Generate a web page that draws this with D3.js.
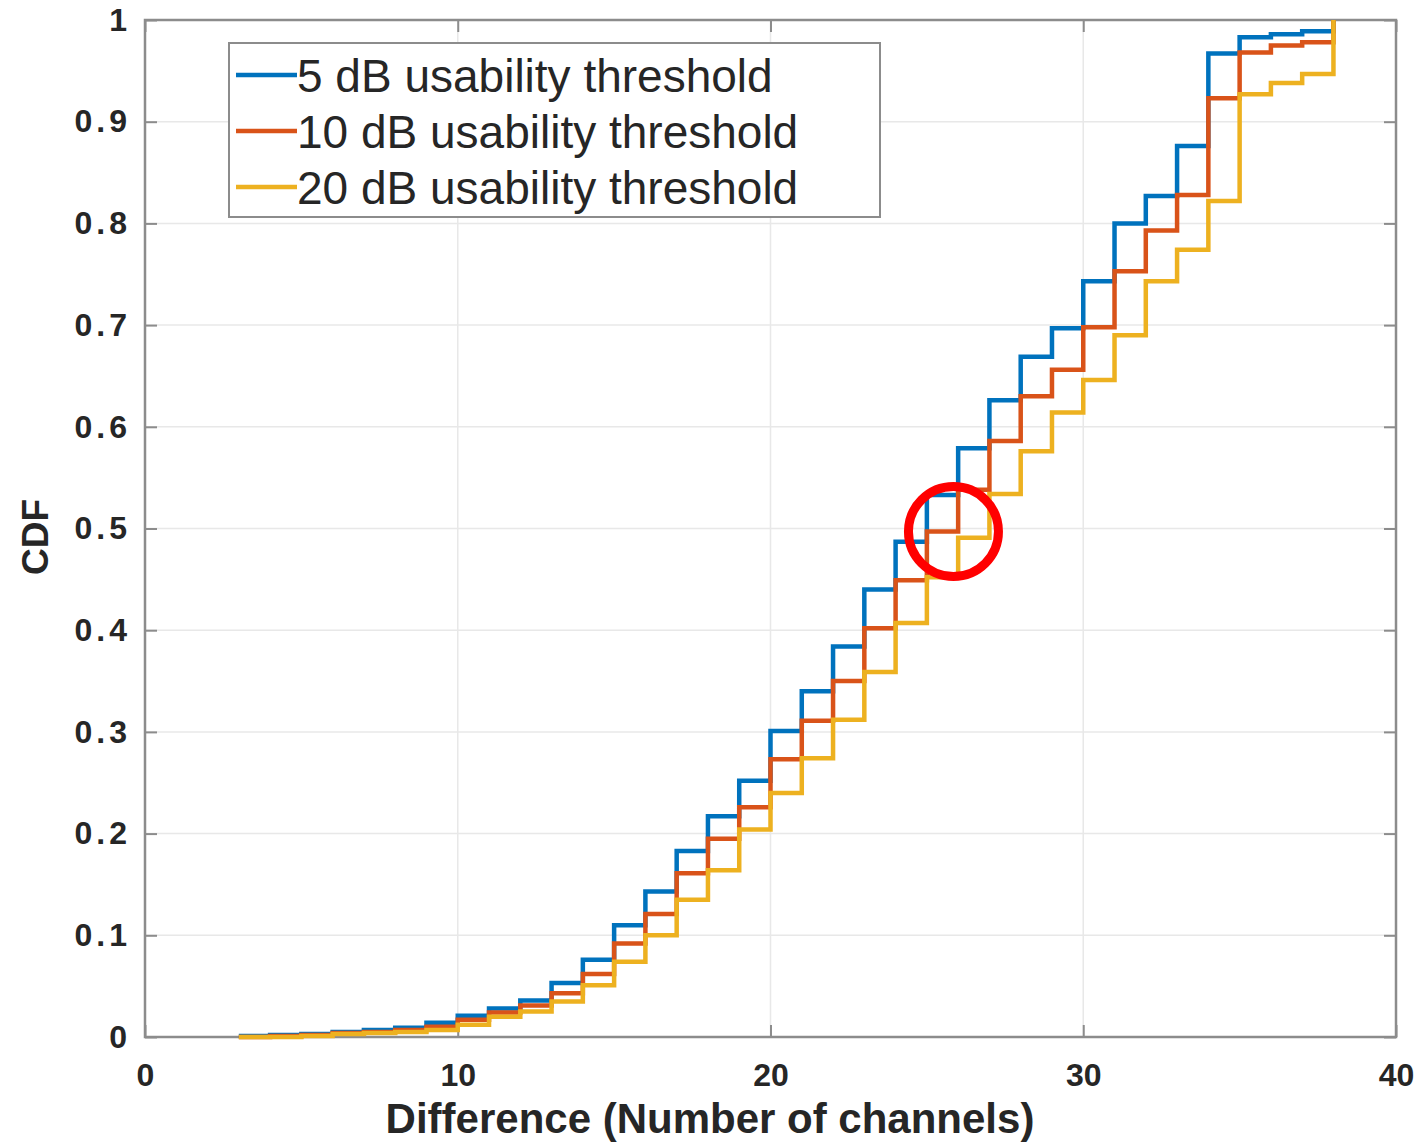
<!DOCTYPE html>
<html>
<head>
<meta charset="utf-8">
<script src="https://cdn.jsdelivr.net/npm/d3@7"></script>
<style>
  body { margin: 0; background: #fff; }
  text { font-family: "Liberation Sans", Arial, Helvetica, sans-serif; }
</style>
</head>
<body>
<script>
// valores de x (diferencia en canales), un escalon por canal
var channels = [3, 4, 5, 6, 7, 8, 9, 10, 11, 12, 13, 14, 15, 16, 17, 18, 19, 20,
  21, 22, 23, 24, 25, 26, 27, 28, 29, 30, 31, 32, 33, 34, 35, 36, 37, 38];

// CDF para cada umbral (valor desde x hasta x+1)
var cdf5dB = [0.001, 0.002, 0.003, 0.005, 0.007, 0.009, 0.014, 0.021, 0.028, 0.036,
  0.053, 0.076, 0.110, 0.143, 0.183, 0.217, 0.252, 0.301, 0.340, 0.384, 0.440,
  0.487, 0.533, 0.579, 0.626, 0.669, 0.697, 0.743, 0.800, 0.827, 0.876, 0.967,
  0.983, 0.986, 0.989, 1.0];
var cdf10dB = [0.000, 0.001, 0.002, 0.004, 0.005, 0.007, 0.010, 0.017, 0.024, 0.031,
  0.043, 0.062, 0.092, 0.121, 0.161, 0.195, 0.226, 0.273, 0.311, 0.350, 0.402,
  0.449, 0.497, 0.538, 0.586, 0.630, 0.656, 0.698, 0.753, 0.793, 0.828, 0.923,
  0.968, 0.975, 0.978, 1.0];
var cdf20dB = [0.000, 0.000, 0.001, 0.003, 0.004, 0.005, 0.007, 0.012, 0.020, 0.025,
  0.035, 0.051, 0.074, 0.100, 0.135, 0.164, 0.204, 0.240, 0.274, 0.312, 0.359,
  0.407, 0.452, 0.491, 0.534, 0.576, 0.614, 0.646, 0.690, 0.743, 0.774, 0.822,
  0.927, 0.938, 0.947, 1.0];

var seriesNames = ["5 dB usability threshold", "10 dB usability threshold", "20 dB usability threshold"];
var seriesColors = ["#0072BD", "#D95319", "#EDB120"];

var xTicks = [0, 10, 20, 30, 40];
var yTicks = [0, 0.1, 0.2, 0.3, 0.4, 0.5, 0.6, 0.7, 0.8, 0.9, 1];

// punto marcado con el circulo rojo
var highlight = [25.85, 0.497];

var width = 1419, height = 1145;
var margin = { left: 145, right: 23, top: 20, bottom: 108 };

var svg = d3.select("body").append("svg")
  .attr("width", width)
  .attr("height", height);

var x = d3.scaleLinear().domain([0, 40]).range([margin.left, width - margin.right]);
var y = d3.scaleLinear().domain([0, 1]).range([height - margin.bottom, margin.top]);

// rejilla
svg.append("g")
  .selectAll("line.gx")
  .data(xTicks)
  .enter().append("line")
  .attr("x1", d => x(d)).attr("x2", d => x(d))
  .attr("y1", y(0)).attr("y2", y(1))
  .attr("stroke", "#e8e8e8").attr("stroke-width", 1.5);
svg.append("g")
  .selectAll("line.gy")
  .data(yTicks)
  .enter().append("line")
  .attr("x1", x(0)).attr("x2", x(40))
  .attr("y1", d => y(d)).attr("y2", d => y(d))
  .attr("stroke", "#e8e8e8").attr("stroke-width", 1.5);

// ejes tipo MATLAB con ticks hacia dentro
var tickLen = 12;
var axisColor = "#8c8c8c";
var tickFont = "'DejaVu Sans', sans-serif";
var fmt = d => d === 0 || d === 1 ? String(d) : d3.format(".1f")(d);

svg.append("g")
  .attr("transform", "translate(0," + y(0) + ")")
  .call(d3.axisBottom(x).tickValues(xTicks).tickSizeInner(-tickLen).tickSizeOuter(0).tickPadding(26))
  .call(g => g.select(".domain").remove())
  .call(g => g.selectAll("line").attr("stroke", axisColor).attr("stroke-width", 2))
  .call(g => g.selectAll("text").attr("font-family", tickFont).attr("font-size", 32)
    .attr("font-weight", "bold").attr("fill", "#262626"));

svg.append("g")
  .attr("transform", "translate(0," + y(1) + ")")
  .call(d3.axisTop(x).tickValues(xTicks).tickSizeInner(-tickLen).tickSizeOuter(0).tickFormat(""))
  .call(g => g.select(".domain").remove())
  .call(g => g.selectAll("line").attr("stroke", axisColor).attr("stroke-width", 2));

svg.append("g")
  .attr("transform", "translate(" + x(0) + ",0)")
  .call(d3.axisLeft(y).tickValues(yTicks).tickFormat(fmt).tickSizeInner(-tickLen).tickSizeOuter(0).tickPadding(14))
  .call(g => g.select(".domain").remove())
  .call(g => g.selectAll("line").attr("stroke", axisColor).attr("stroke-width", 2))
  .call(g => g.selectAll("text").attr("font-family", tickFont).attr("font-size", 32)
    .attr("font-weight", "bold").attr("letter-spacing", 4).attr("fill", "#262626"));

svg.append("g")
  .attr("transform", "translate(" + x(40) + ",0)")
  .call(d3.axisRight(y).tickValues(yTicks).tickSizeInner(-tickLen).tickSizeOuter(0).tickFormat(""))
  .call(g => g.select(".domain").remove())
  .call(g => g.selectAll("line").attr("stroke", axisColor).attr("stroke-width", 2));

// caja del eje
svg.append("rect")
  .attr("x", x(0)).attr("y", y(1))
  .attr("width", x(40) - x(0)).attr("height", y(0) - y(1))
  .attr("fill", "none").attr("stroke", axisColor).attr("stroke-width", 2.5);

// curvas escalonadas, en el orden de MATLAB (la ultima queda encima)
var allSeries = [cdf5dB, cdf10dB, cdf20dB];
var line = d3.line()
  .x(d => x(d[0]))
  .y(d => y(d[1]))
  .curve(d3.curveStepAfter);

allSeries.forEach(function(vals, i) {
  var pts = channels.map((c, j) => [c, vals[j]]);
  svg.append("path")
    .datum(pts)
    .attr("d", line)
    .attr("fill", "none")
    .attr("stroke", seriesColors[i])
    .attr("stroke-width", 4.5)
    .attr("stroke-linejoin", "miter");
});

// leyenda
var legend = svg.append("g").attr("transform", "translate(229,43)");
legend.append("rect")
  .attr("width", 651).attr("height", 174)
  .attr("fill", "#fff").attr("stroke", axisColor).attr("stroke-width", 2);
seriesNames.forEach(function(name, i) {
  var ly = 32 + i * 56;
  legend.append("line")
    .attr("x1", 7).attr("x2", 68)
    .attr("y1", ly).attr("y2", ly)
    .attr("stroke", seriesColors[i]).attr("stroke-width", 4.5);
  legend.append("text")
    .attr("x", 68).attr("y", ly)
    .attr("dy", "0.36em")
    .attr("font-size", 46)
    .attr("fill", "#262626")
    .text(name);
});

// titulos de ejes
svg.append("text")
  .attr("x", 710).attr("y", 1133)
  .attr("text-anchor", "middle")
  .attr("font-size", 42).attr("font-weight", "bold").attr("fill", "#262626")
  .text("Difference (Number of channels)");

svg.append("text")
  .attr("transform", "translate(48,537) rotate(-90)")
  .attr("text-anchor", "middle")
  .attr("font-size", 37).attr("font-weight", "bold").attr("fill", "#262626")
  .text("CDF");

// circulo rojo de la anotacion
svg.append("circle")
  .attr("cx", x(highlight[0])).attr("cy", y(highlight[1]))
  .attr("r", 45)
  .attr("fill", "none")
  .attr("stroke", "#ff0000")
  .attr("stroke-width", 9);
</script>
</body>
</html>
